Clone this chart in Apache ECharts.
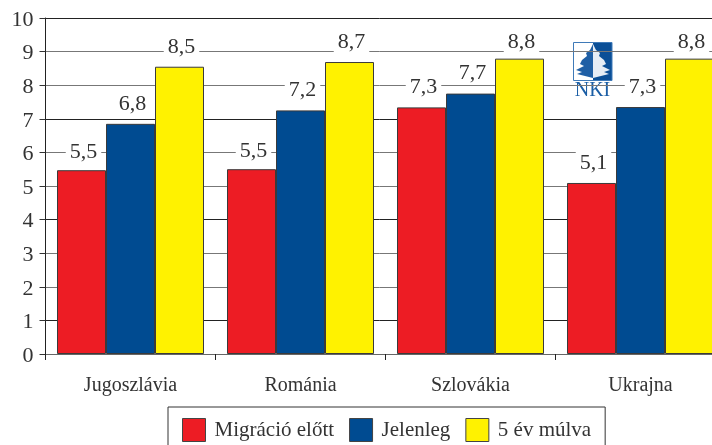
<!DOCTYPE html>
<html><head><meta charset="utf-8">
<style>html,body{margin:0;padding:0;background:#fff}#c{width:712px;height:445px;overflow:hidden}</style>
<script src="https://cdn.jsdelivr.net/npm/echarts@6/dist/echarts.min.js"></script>
</head><body><div id="c"></div>
<script>
const categories = ['Jugoszlávia','Románia','Szlovákia','Ukrajna'];
const seriesNames = ['Migráció előtt','Jelenleg','5 év múlva'];
const before = [5.47,5.5,7.34,5.09];
const now = [6.85,7.25,7.75,7.35];
const later = [8.55,8.69,8.79,8.79];
const beforeLabels = ['5,5','5,5','7,3','5,1'];
const nowLabels = ['6,8','7,2','7,7','7,3'];
const laterLabels = ['8,5','8,7','8,8','8,8'];
const colors = ['#ed1c24','#004b91','#fff200'];
const font = 'Liberation Serif';
const ink = '#333';
function labelDrop(text){ return text==='8,8'?4:(text==='5,5'?2:0); }
function mk(i, vals, labels){
  return {name:seriesNames[i],type:'bar',barWidth:49,barGap:0,
    data:vals.map((v,k)=>({value:v,label:{formatter:labels[k],offset:[2,labelDrop(labels[k])]}})),
    itemStyle:{color:colors[i],borderColor:'#3a3a3a',borderWidth:1},
    label:{show:true,position:'top',distance:9,fontFamily:font,fontSize:22,color:ink,
      backgroundColor:'#fff',padding:[0,4,0,4],lineHeight:22}
  };
}
const treeL=[[593,44],[590,50],[586,53],[587,56],[582,60],[580,64],[584,66],[576,70],[582,72],[577,74],[585,76],[593,78]];
const treeR=treeL.map(p=>[1186-p[0],p[1]]);
const chart=echarts.init(document.getElementById('c'),null,{renderer:'canvas'});
chart.setOption({
  animation:false,backgroundColor:'#fff',
  grid:{left:45.5,top:18,width:680,height:336,containLabel:false,outerBoundsMode:'none'},
  legend:{left:168,top:407,orient:'horizontal',padding:[11,14,11,14],itemWidth:23,itemHeight:23,itemGap:15,
    icon:'rect',borderColor:'#333',borderWidth:1,backgroundColor:'#fff',
    textStyle:{fontFamily:font,fontSize:21,color:ink,padding:[0,0,0,4]},
    data:seriesNames,itemStyle:{borderColor:'#444',borderWidth:1}},
  xAxis:{type:'category',data:categories,
    axisLine:{lineStyle:{color:'#666',width:1}},
    axisTick:{show:true,length:6,lineStyle:{color:'#222'}},
    axisLabel:{margin:22,fontFamily:font,fontSize:20,color:ink,interval:0},
    splitLine:{show:false}},
  yAxis:{type:'value',min:0,max:10,interval:1,
    axisLine:{show:true,lineStyle:{color:'#222',width:1}},
    axisTick:{show:true,length:6,lineStyle:{color:'#333'}},
    axisLabel:{margin:12,formatter:'{a|{value}}',rich:{a:{fontFamily:font,fontSize:22,color:ink,padding:[4,0,0,0]}}},
    splitLine:{show:true,lineStyle:{color:['#777','#222','#777'],width:1}}},
  series:[mk(0,before,beforeLabels),mk(1,now,nowLabels),mk(2,later,laterLabels)],
  graphic:[{type:'group',z:100,children:[
    {type:'rect',shape:{x:572,y:41,width:41,height:58},style:{fill:'#fff'}},
    {type:'rect',shape:{x:593,y:42.5,width:19,height:38},style:{fill:'#0b4f97'}},
    {type:'polygon',shape:{points:treeL},style:{fill:'#1f5fa5'}},
    {type:'polygon',shape:{points:treeR},style:{fill:'#e6edf5'}},
    {type:'rect',shape:{x:573.5,y:42.5,width:38.5,height:38},style:{fill:'none',stroke:'#3f7ab8',lineWidth:1}},
    {type:'text',style:{x:592.5,y:91,text:'NKI',align:'center',verticalAlign:'middle',font:'20px "Liberation Serif"',fill:'#1b5ea5'}}
  ]}]
});
</script></body></html>
